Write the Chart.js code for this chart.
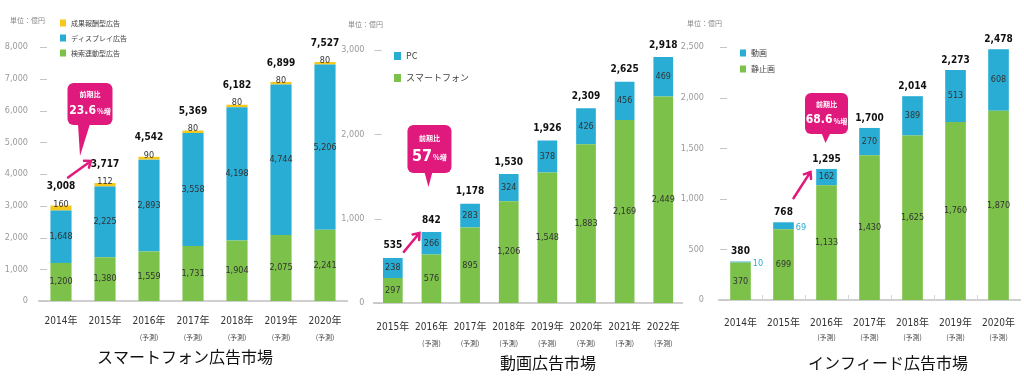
<!DOCTYPE html>
<html>
<head>
<meta charset="utf-8">
<script src="https://cdn.jsdelivr.net/npm/chart.js@4/dist/chart.umd.min.js"></script>
<style>
  body { margin: 0; background: #fff; width: 1024px; height: 377px; overflow: hidden; position: relative; }
  .box { position: absolute; top: 0; height: 377px; }
</style>
</head>
<body>
<div class="box" style="left:0;width:350px"><canvas id="smChart"></canvas></div>
<div class="box" style="left:340px;width:350px"><canvas id="videoChart"></canvas></div>
<div class="box" style="left:680px;width:344px"><canvas id="infeedChart"></canvas></div>
<script>
// スマートフォン広告市場
const smYears = ['2014年', '2015年', '2016年', '2017年', '2018年', '2019年', '2020年'];
const smForecast = [false, false, true, true, true, true, true];
const smSearch = [1200, 1380, 1559, 1731, 1904, 2075, 2241];
const smDisplay = [1648, 2225, 2893, 3558, 4198, 4744, 5206];
const smReward = [160, 112, 90, 80, 80, 80, 80];
const smTotals = [3008, 3717, 4542, 5369, 6182, 6899, 7527];
const smTicks = [0, 1000, 2000, 3000, 4000, 5000, 6000, 7000, 8000];

// 動画広告市場
const videoYears = ['2015年', '2016年', '2017年', '2018年', '2019年', '2020年', '2021年', '2022年'];
const videoForecast = [false, true, true, true, true, true, true, true];
const videoSp = [297, 576, 895, 1206, 1548, 1883, 2169, 2449];
const videoPc = [238, 266, 283, 324, 378, 426, 456, 469];
const videoTotals = [535, 842, 1178, 1530, 1926, 2309, 2625, 2918];
const videoTicks = [0, 1000, 2000, 3000];

// インフィード広告市場
const infeedYears = ['2014年', '2015年', '2016年', '2017年', '2018年', '2019年', '2020年'];
const infeedForecast = [false, false, true, true, true, true, true];
const infeedStill = [370, 699, 1133, 1430, 1625, 1760, 1870];
const infeedVideo = [10, 69, 162, 270, 389, 513, 608];
const infeedTotals = [380, 768, 1295, 1700, 2014, 2273, 2478];
const infeedTicks = [0, 500, 1000, 1500, 2000, 2500];

const NARROW = '"DejaVu Sans Condensed", "Liberation Sans Narrow", "Liberation Sans", "Noto Sans CJK JP", sans-serif';
const JP = '"Noto Sans CJK JP", sans-serif';
const GREEN = '#7cc14a', BLUE = '#29add5', YELLOW = '#f6c81c', PINK = '#e0197d';

const fmt = v => v.toLocaleString('en-US');

function buildChart(id, cfg) {
  const deco = {
    id: 'deco',
    afterDraw(chart) {
      const ctx = chart.ctx, area = chart.chartArea;
      const xs = chart.scales.x, ys = chart.scales.y;
      ctx.save();

      // petits tirets de l'axe Y
      ctx.strokeStyle = '#c4c4c4';
      ctx.lineWidth = 1;
      ys.ticks.forEach(t => {
        const y = Math.round(ys.getPixelForValue(t.value)) + 0.5;
        ctx.beginPath();
        ctx.moveTo(area.left + 1, y);
        ctx.lineTo(area.left + 8, y);
        ctx.stroke();
      });

      // marques entre catégories
      if (cfg.sepMarks) {
        ctx.strokeStyle = '#d6d6d6';
        for (let j = 1; j < cfg.labels.length; j++) {
          const x = Math.round((xs.getPixelForTick(j - 1) + xs.getPixelForTick(j)) / 2) + 0.5;
          ctx.beginPath();
          ctx.moveTo(x, area.bottom - 5);
          ctx.lineTo(x, area.bottom);
          ctx.stroke();
        }
      }

      // valeurs des segments
      ctx.textAlign = 'center';
      ctx.textBaseline = 'middle';
      cfg.series.forEach((s, i) => {
        const meta = chart.getDatasetMeta(i);
        meta.data.forEach((bar, j) => {
          const h = bar.base - bar.y;
          const mid = (bar.y + bar.base) / 2;
          ctx.font = cfg.segFont + 'px ' + NARROW;
          ctx.fillStyle = '#333';
          if (s.mode === 'above') {
            ctx.fillText(fmt(s.data[j]), bar.x, mid - 3);
          } else if (h < 12) {
            ctx.textAlign = 'left';
            ctx.fillStyle = s.color;
            ctx.fillText(fmt(s.data[j]), bar.x + bar.width / 2 + 2, mid + 2);
            ctx.textAlign = 'center';
          } else {
            ctx.fillText(fmt(s.data[j]), bar.x, mid);
          }
        });
      });

      // totaux
      const top = chart.getDatasetMeta(cfg.series.length - 1);
      ctx.font = 'bold ' + cfg.totalFont + 'px ' + NARROW;
      ctx.fillStyle = '#111';
      top.data.forEach((bar, j) => {
        ctx.fillText(fmt(cfg.totals[j]), bar.x, bar.y - cfg.totalGap);
      });

      // (予測)
      ctx.font = '7px ' + JP;
      ctx.fillStyle = '#444';
      cfg.forecast.forEach((f, j) => {
        if (f) ctx.fillText('(予測)', xs.getPixelForTick(j), area.bottom + cfg.fcGap);
      });

      // titre
      ctx.font = '16px ' + JP;
      ctx.fillStyle = '#111';
      ctx.fillText(cfg.title, cfg.titleX, cfg.titleY);

      // unité
      ctx.textAlign = 'left';
      ctx.font = '7px ' + JP;
      ctx.fillStyle = '#8a8a8a';
      ctx.fillText('単位：億円', cfg.unit[0], cfg.unit[1]);

      // légende
      const lg = cfg.legend;
      cfg.series.slice().reverse().forEach((s, k) => {
        const y = lg.y + k * lg.gap;
        ctx.fillStyle = s.color;
        ctx.fillRect(lg.x, y - lg.box / 2, lg.box - 1, lg.box);
        ctx.fillStyle = '#444';
        ctx.font = lg.font + 'px ' + JP;
        ctx.fillText(s.label, lg.x + lg.box + 4, y);
      });

      // flèche + bulle
      const c = cfg.callout;
      const from = top.data[c.from], to = top.data[c.to];
      const sx = from.x + c.start[0], sy = from.y + c.start[1];
      const ex = to.x + c.end[0], ey = to.y + c.end[1];
      ctx.strokeStyle = PINK;
      ctx.lineWidth = 2.5;
      ctx.lineCap = 'round';
      ctx.beginPath();
      ctx.moveTo(sx, sy);
      ctx.lineTo(ex, ey);
      const a = Math.atan2(ey - sy, ex - sx);
      ctx.moveTo(ex - 7 * Math.cos(a - 0.65), ey - 7 * Math.sin(a - 0.65));
      ctx.lineTo(ex, ey);
      ctx.lineTo(ex - 7 * Math.cos(a + 0.65), ey - 7 * Math.sin(a + 0.65));
      ctx.stroke();

      const bx = to.x + c.box[0] - c.w / 2, bb = to.y + c.box[1], bt = bb - c.h;
      const tx = to.x + c.tip[0], ty = to.y + c.tip[1];
      ctx.fillStyle = PINK;
      ctx.beginPath();
      ctx.roundRect(bx, bt, c.w, c.h, 6);
      ctx.fill();
      ctx.beginPath();
      ctx.moveTo(tx + c.base[0], bb - 1);
      ctx.lineTo(tx, ty);
      ctx.lineTo(tx + c.base[1], bb - 1);
      ctx.closePath();
      ctx.fill();

      ctx.fillStyle = '#fff';
      ctx.textAlign = 'center';
      ctx.font = 'bold 7px ' + JP;
      ctx.fillText('前期比', bx + c.w / 2, bt + c.h * 0.27);
      ctx.font = 'bold ' + c.size + 'px ' + NARROW;
      const nw = ctx.measureText(c.text).width;
      ctx.font = 'bold 7px ' + JP;
      const sw = ctx.measureText('%増').width;
      const lx = bx + c.w / 2 - (nw + sw + 1) / 2, ly = bt + c.h * 0.66;
      ctx.textAlign = 'left';
      ctx.font = 'bold ' + c.size + 'px ' + NARROW;
      ctx.fillText(c.text, lx, ly);
      ctx.font = 'bold 7px ' + JP;
      ctx.fillText('%増', lx + nw + 1, ly + 1);

      ctx.restore();
    }
  };

  return new Chart(document.getElementById(id), {
    type: 'bar',
    data: {
      labels: cfg.labels,
      datasets: cfg.series.map(s => ({
        label: s.label,
        data: s.data,
        backgroundColor: s.color,
        borderWidth: 0,
        barPercentage: cfg.barPct,
        categoryPercentage: 1
      }))
    },
    options: {
      responsive: true,
      maintainAspectRatio: false,
      animation: false,
      layout: { padding: { top: cfg.top, right: cfg.right, left: 0, bottom: 0 } },
      plugins: { legend: { display: false }, tooltip: { enabled: false } },
      scales: {
        x: {
          stacked: true,
          grid: { display: false },
          border: { color: '#cfcfcf', width: 2 },
          ticks: { color: '#333', font: { family: NARROW, size: 10 }, padding: cfg.xPad, maxRotation: 0, autoSkip: false },
          afterFit: s => { s.height = cfg.xHeight; }
        },
        y: {
          stacked: true,
          min: 0,
          max: cfg.ticks[cfg.ticks.length - 1],
          grid: { display: false, drawTicks: false },
          border: { display: false },
          ticks: { color: '#9a9a9a', font: { family: NARROW, size: 9 }, padding: cfg.yPad, callback: v => fmt(v) },
          afterBuildTicks: s => { s.ticks = cfg.ticks.map(v => ({ value: v })); },
          afterFit: s => { s.width = cfg.yWidth; }
        }
      }
    },
    plugins: [deco]
  });
}

buildChart('smChart', {
  labels: smYears, forecast: smForecast, totals: smTotals, ticks: smTicks,
  series: [
    { label: '検索連動型広告', data: smSearch, color: GREEN },
    { label: 'ディスプレイ広告', data: smDisplay, color: BLUE },
    { label: '成果報酬型広告', data: smReward, color: YELLOW, mode: 'above' }
  ],
  barPct: 0.48, top: 47, right: 3, yWidth: 39, yPad: 11, xHeight: 76, xPad: 6, fcGap: 36,
  segFont: 9, totalFont: 10, totalGap: 19,
  title: 'スマートフォン広告市場', titleX: 185, titleY: 357,
  unit: [10, 20],
  legend: { x: 60, y: 23, gap: 15, box: 7, font: 7 },
  callout: { from: 0, to: 1, start: [7, -28], end: [-14, -22], box: [-15, -58], w: 45, h: 42, tip: [-25, -27], base: [-2, 10], text: '23.6', size: 12 }
});

buildChart('videoChart', {
  labels: videoYears, forecast: videoForecast, totals: videoTotals, ticks: videoTicks,
  series: [
    { label: 'スマートフォン', data: videoSp, color: GREEN },
    { label: 'PC', data: videoPc, color: BLUE }
  ],
  barPct: 0.51, top: 50, right: 4.5, yWidth: 33.5, yPad: 9, xHeight: 74, xPad: 10, fcGap: 40,
  segFont: 9, totalFont: 10, totalGap: 12,
  title: '動画広告市場', titleX: 208, titleY: 363,
  unit: [8, 24],
  legend: { x: 54, y: 56, gap: 22, box: 8, font: 9 },
  callout: { from: 0, to: 1, start: [11, -6], end: [-12, 1], box: [-2, -59], w: 44, h: 48, tip: [-3, -45], base: [-4, 4], text: '57', size: 16 }
});

buildChart('infeedChart', {
  labels: infeedYears, forecast: infeedForecast, totals: infeedTotals, ticks: infeedTicks,
  series: [
    { label: '静止画', data: infeedStill, color: GREEN },
    { label: '動画', data: infeedVideo, color: BLUE }
  ],
  barPct: 0.48, top: 47, right: 0.5, yWidth: 39, yPad: 15, xHeight: 77, xPad: 9, fcGap: 37,
  segFont: 9, totalFont: 10, totalGap: 10, sepMarks: true,
  title: 'インフィード広告市場', titleX: 208, titleY: 363,
  unit: [7, 23],
  legend: { x: 60, y: 53, gap: 16, box: 7, font: 8 },
  callout: { from: 1, to: 2, start: [10, -24], end: [-16, 3], box: [0, -35], w: 43, h: 41, tip: [-1, -26], base: [-4, 5], text: '68.6', size: 12 }
});
</script>
</body>
</html>
